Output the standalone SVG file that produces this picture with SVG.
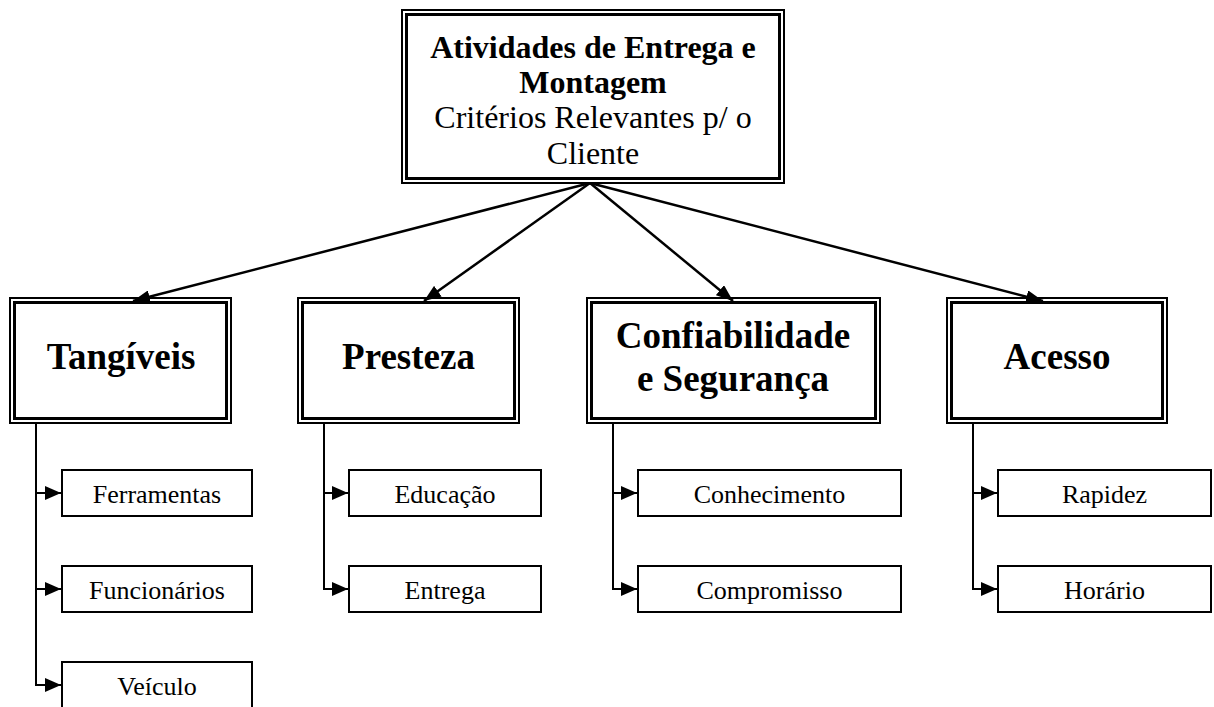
<svg xmlns="http://www.w3.org/2000/svg" width="1214" height="707" viewBox="0 0 1214 707">
<style>
  .bg { fill: #ffffff; }
  .outer { fill: none; stroke: #000; stroke-width: 2; }
  .inner { fill: none; stroke: #000; stroke-width: 3; }
  .child { fill: #fff; stroke: #000; stroke-width: 2; }
  .conn { fill: none; stroke: #000; stroke-width: 2.5; }
  .sub { fill: none; stroke: #000; stroke-width: 2; }
  .t-top-b { font-family: "Liberation Serif", "Times New Roman", serif; font-size: 32px; font-weight: bold; text-anchor: middle; fill: #000; }
  .t-top { font-family: "Liberation Serif", "Times New Roman", serif; font-size: 32px; text-anchor: middle; fill: #000; }
  .t-l2 { font-family: "Liberation Serif", "Times New Roman", serif; font-size: 37px; font-weight: bold; text-anchor: middle; fill: #000; }
  .t-ch { font-family: "Liberation Serif", "Times New Roman", serif; font-size: 26px; text-anchor: middle; fill: #000; }
</style>
<defs>
  <marker id="ah" markerUnits="userSpaceOnUse" markerWidth="17" markerHeight="13" refX="17" refY="6.5" orient="auto">
    <path d="M0,0 L17,6.5 L0,13 z" fill="#000"/>
  </marker>
  <marker id="ah2" markerUnits="userSpaceOnUse" markerWidth="16" markerHeight="14" refX="16" refY="7" orient="auto">
    <path d="M0,0 L16,7 L0,14 z" fill="#000"/>
  </marker>
  <clipPath id="row2clip">
    <rect x="0" y="565" width="1214" height="41"/>
  </clipPath>
</defs>
<rect class="bg" x="0" y="0" width="1214" height="707"/>

<g id="connectors">
  <line class="conn" x1="590" y1="183" x2="133" y2="301" marker-end="url(#ah)"/>
  <line class="conn" x1="590" y1="183" x2="424" y2="301" marker-end="url(#ah)"/>
  <line class="conn" x1="590" y1="183" x2="733" y2="301" marker-end="url(#ah)"/>
  <line class="conn" x1="590" y1="183" x2="1043" y2="301" marker-end="url(#ah)"/>

  <line class="sub" x1="36" y1="424" x2="36" y2="685"/>
  <line class="sub" x1="35" y1="493" x2="61" y2="493" marker-end="url(#ah2)"/>
  <line class="sub" x1="35" y1="589" x2="61" y2="589" marker-end="url(#ah2)"/>
  <line class="sub" x1="35" y1="685" x2="61" y2="685" marker-end="url(#ah2)"/>

  <line class="sub" x1="324" y1="424" x2="324" y2="589"/>
  <line class="sub" x1="323" y1="493" x2="348" y2="493" marker-end="url(#ah2)"/>
  <line class="sub" x1="323" y1="589" x2="348" y2="589" marker-end="url(#ah2)"/>

  <line class="sub" x1="613" y1="424" x2="613" y2="589"/>
  <line class="sub" x1="612" y1="493" x2="637" y2="493" marker-end="url(#ah2)"/>
  <line class="sub" x1="612" y1="589" x2="637" y2="589" marker-end="url(#ah2)"/>

  <line class="sub" x1="973" y1="424" x2="973" y2="589"/>
  <line class="sub" x1="972" y1="493" x2="997" y2="493" marker-end="url(#ah2)"/>
  <line class="sub" x1="972" y1="589" x2="997" y2="589" marker-end="url(#ah2)"/>
</g>

<g id="node-top">
  <rect class="bg" x="402" y="10" width="382" height="173"/>
  <rect class="outer" x="402" y="10" width="382" height="173"/>
  <rect class="inner" x="406.5" y="14.5" width="373" height="164"/>
  <text class="t-top-b" x="593" y="58">Atividades de Entrega e</text>
  <text class="t-top-b" x="593" y="93">Montagem</text>
  <text class="t-top" x="593" y="128">Critérios Relevantes p/ o</text>
  <text class="t-top" x="593" y="164">Cliente</text>
</g>

<g id="node-tangiveis">
  <rect class="outer" x="10" y="298" width="221" height="125"/>
  <rect class="inner" x="14.5" y="302.5" width="212" height="116"/>
  <text class="t-l2" x="121" y="369">Tangíveis</text>
</g>

<g id="node-presteza">
  <rect class="outer" x="298" y="298" width="221" height="125"/>
  <rect class="inner" x="302.5" y="302.5" width="212" height="116"/>
  <text class="t-l2" x="408.5" y="369">Presteza</text>
</g>

<g id="node-confiabilidade">
  <rect class="outer" x="587" y="298" width="293" height="125"/>
  <rect class="inner" x="591.5" y="302.5" width="284" height="116"/>
  <text class="t-l2" x="733" y="348">Confiabilidade</text>
  <text class="t-l2" x="733" y="391">e Segurança</text>
</g>

<g id="node-acesso">
  <rect class="outer" x="947" y="298" width="220" height="125"/>
  <rect class="inner" x="951.5" y="302.5" width="211" height="116"/>
  <text class="t-l2" x="1057" y="369">Acesso</text>
</g>

<g id="node-ferramentas">
  <rect class="child" x="62" y="470" width="190" height="46"/>
  <text class="t-ch" x="157" y="503">Ferramentas</text>
</g>
<g id="node-funcionarios">
  <rect class="child" x="62" y="566" width="190" height="46"/>
  <text class="t-ch" x="157" y="599" clip-path="url(#row2clip)">Funcionários</text>
</g>
<g id="node-veiculo">
  <rect class="child" x="62" y="662" width="190" height="60"/>
  <text class="t-ch" x="157" y="695">Veículo</text>
</g>

<g id="node-educacao">
  <rect class="child" x="349" y="470" width="192" height="46"/>
  <text class="t-ch" x="445" y="503">Educação</text>
</g>
<g id="node-entrega">
  <rect class="child" x="349" y="566" width="192" height="46"/>
  <text class="t-ch" x="445" y="599" clip-path="url(#row2clip)">Entrega</text>
</g>

<g id="node-conhecimento">
  <rect class="child" x="638" y="470" width="263" height="46"/>
  <text class="t-ch" x="769.5" y="503">Conhecimento</text>
</g>
<g id="node-compromisso">
  <rect class="child" x="638" y="566" width="263" height="46"/>
  <text class="t-ch" x="769.5" y="599" clip-path="url(#row2clip)">Compromisso</text>
</g>

<g id="node-rapidez">
  <rect class="child" x="998" y="470" width="213" height="46"/>
  <text class="t-ch" x="1104.5" y="503">Rapidez</text>
</g>
<g id="node-horario">
  <rect class="child" x="998" y="566" width="213" height="46"/>
  <text class="t-ch" x="1104.5" y="599" clip-path="url(#row2clip)">Horário</text>
</g>
</svg>
